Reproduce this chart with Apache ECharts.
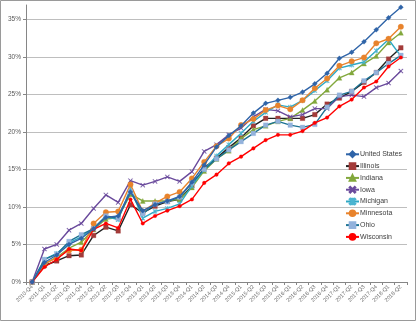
<!DOCTYPE html>
<html>
<head>
<meta charset="utf-8">
<script src="https://cdn.jsdelivr.net/npm/echarts@6/dist/echarts.min.js"></script>
<style>
  html, body { margin: 0; padding: 0; background: #fff; }
  #chart { width: 420px; height: 322px; }
</style>
</head>
<body>
<div id="chart"></div>
<script>
// Quarterly periods on the category axis
const quarters = [
  '2010-Q4',
  '2011-Q1', '2011-Q2', '2011-Q3', '2011-Q4',
  '2012-Q1', '2012-Q2', '2012-Q3', '2012-Q4',
  '2013-Q1', '2013-Q2', '2013-Q3', '2013-Q4',
  '2014-Q1', '2014-Q2', '2014-Q3', '2014-Q4',
  '2015-Q1', '2015-Q2', '2015-Q3', '2015-Q4',
  '2016-Q1', '2016-Q2', '2016-Q3', '2016-Q4',
  '2017-Q1', '2017-Q2', '2017-Q3', '2017-Q4',
  '2018-Q1', '2018-Q2'
];

// Cumulative change since 2010-Q4, in percent
const unitedStates = [0, 2.6, 3.6, 5.0, 5.8, 7.1, 8.6, 8.8, 12.0, 9.5, 10.3, 10.8, 11.4, 13.3, 15.6, 18.0, 19.5, 20.8, 22.5, 23.8, 24.2, 24.6, 25.3, 26.4, 27.8, 29.8, 30.6, 32.0, 33.6, 35.2, 36.6];
const illinois     = [0, 2.2, 2.8, 3.5, 3.6, 6.2, 7.3, 6.8, 10.3, 9.2, 10.1, 10.7, 11.0, 12.8, 15.2, 16.5, 17.9, 19.2, 20.8, 21.8, 21.8, 21.8, 21.8, 22.3, 23.7, 24.5, 25.4, 26.6, 27.9, 29.7, 31.2];
const indiana      = [0, 2.4, 3.3, 4.5, 5.3, 7.0, 8.4, 8.6, 11.7, 10.8, 10.8, 10.8, 11.0, 12.6, 14.8, 16.4, 17.5, 19.1, 20.3, 20.8, 21.4, 21.8, 22.9, 24.1, 25.6, 27.2, 27.9, 29.1, 30.1, 31.9, 33.2];
const iowa         = [0, 4.4, 5.0, 6.9, 7.8, 9.8, 11.6, 10.6, 13.5, 12.9, 13.4, 14.0, 13.4, 14.7, 17.4, 18.3, 19.6, 20.5, 22.0, 23.0, 22.8, 22.0, 22.3, 23.1, 23.1, 24.7, 24.9, 24.7, 25.9, 26.5, 28.1];
const michigan     = [0, 3.0, 3.8, 5.2, 6.0, 7.2, 8.7, 8.3, 12.5, 8.5, 9.4, 9.8, 10.4, 12.8, 15.0, 16.8, 18.3, 19.8, 21.4, 22.6, 23.6, 23.3, 24.2, 25.5, 26.8, 28.5, 28.9, 29.3, 30.8, 32.3, 30.1];
const minnesota    = [0, 2.4, 3.2, 4.2, 4.3, 7.8, 9.3, 9.4, 13.0, 9.4, 10.5, 11.4, 12.0, 13.8, 16.0, 18.1, 19.1, 20.9, 21.7, 22.9, 23.5, 23.0, 24.2, 25.8, 27.1, 28.8, 29.4, 29.9, 31.8, 32.4, 34.0];
const ohio         = [0, 3.0, 3.7, 5.4, 6.3, 7.1, 8.8, 8.5, 12.0, 9.1, 10.4, 10.7, 11.3, 13.2, 15.0, 16.4, 17.6, 18.7, 19.8, 20.9, 21.4, 20.9, 20.6, 21.0, 23.3, 24.9, 25.4, 26.8, 27.9, 29.1, 30.2];
const wisconsin    = [0, 2.0, 3.0, 4.4, 4.2, 7.0, 7.8, 7.2, 11.0, 7.8, 8.8, 9.5, 10.1, 11.0, 13.2, 14.3, 15.8, 16.7, 17.8, 18.9, 19.6, 19.6, 20.1, 21.2, 21.9, 23.4, 24.3, 25.9, 26.7, 28.7, 29.9];

// Percent tick labels on the value axis
const yTicks = ['0%', '5%', '10%', '15%', '20%', '25%', '30%', '35%'];

const xMarker = 'path://M0,1L1,0L5,4L9,0L10,1L6,5L10,9L9,10L5,6L1,10L0,9L4,5Z';
const starMarker = 'path://M0,1L1,0L5,4L9,0L10,1L6,5L10,9L9,10L5,6L1,10L0,9L4,5Z M4.4,0L5.6,0L5.6,10L4.4,10Z';

function makeSeries(name, data, lineColor, symbol, symbolSize, markerColor, z) {
  return {
    name: name,
    type: 'line',
    data: data,
    symbol: symbol,
    symbolSize: symbolSize,
    showAllSymbol: true,
    z: z,
    lineStyle: { color: lineColor, width: 1.4 },
    itemStyle: { color: markerColor, borderColor: markerColor, borderWidth: 0.3 },
    emphasis: { disabled: true },
    animation: false
  };
}

const series = [
  makeSeries('United States', unitedStates, '#2F64A8', 'diamond', 5, '#2F64A8', 10),
  makeSeries('Illinois', illinois, '#222222', 'rect', 4.6, '#A33B39', 3),
  makeSeries('Indiana', indiana, '#82A83C', 'triangle', 5, '#82A83C', 4),
  makeSeries('Iowa', iowa, '#6A4A9C', xMarker, 4.5, '#6A4A9C', 5),
  makeSeries('Michigan', michigan, '#2FA8C4', starMarker, 4.5, '#4BB4D0', 6),
  makeSeries('Minnesota', minnesota, '#E8832C', 'circle', 5.5, '#E8832C', 7),
  makeSeries('Ohio', ohio, '#1E7394', 'rect', 4.6, '#93B2DC', 8),
  makeSeries('Wisconsin', wisconsin, '#FF0000', 'circle', 3.6, '#FF0000', 9)
];

const chart = echarts.init(document.getElementById('chart'), null, { renderer: 'canvas' });
chart.setOption({
  animation: false,
  backgroundColor: '#ffffff',
  textStyle: { fontFamily: 'Liberation Sans, Arial, sans-serif' },
  graphic: [{
    type: 'rect',
    shape: { x: 0.5, y: 0.5, width: 415, height: 320 },
    style: { fill: 'none', stroke: '#9A9A9A', lineWidth: 1 },
    silent: true
  }],
  grid: { left: 26, right: 13, top: 5, bottom: 40, containLabel: false },
  legend: {
    orient: 'vertical',
    left: 345,
    top: 150.5,
    padding: 0,
    itemGap: 4.2,
    itemWidth: 13,
    itemHeight: 7,
    textStyle: { fontSize: 7, color: '#404040', padding: [0, 0, 0, -4] },
    data: series.map(s => s.name)
  },
  xAxis: {
    type: 'category',
    data: quarters,
    boundaryGap: true,
    axisLine: { lineStyle: { color: '#868686', width: 1 } },
    axisTick: { show: true, length: 3, lineStyle: { color: '#868686' } },
    axisLabel: {
      interval: 0,
      rotate: 45,
      fontSize: 5.5,
      color: '#6A6A6A',
      margin: 4
    },
    splitLine: { show: false }
  },
  yAxis: {
    type: 'value',
    min: 0,
    max: 36.9,
    interval: 5,
    axisLine: { show: true, lineStyle: { color: '#868686', width: 1 } },
    axisTick: { show: true, length: 3, lineStyle: { color: '#868686' } },
    axisLabel: {
      fontSize: 6.5,
      color: '#595959',
      margin: 5,
      showMaxLabel: false,
      formatter: v => {
        const i = Math.round(v / 5);
        return Math.abs(v - i * 5) < 1e-6 ? yTicks[i] : '';
      }
    },
    splitLine: { show: true, showMaxLine: false, lineStyle: { color: '#BEBEBE', width: 1 } }
  },
  series: series
});
</script>
</body>
</html>
